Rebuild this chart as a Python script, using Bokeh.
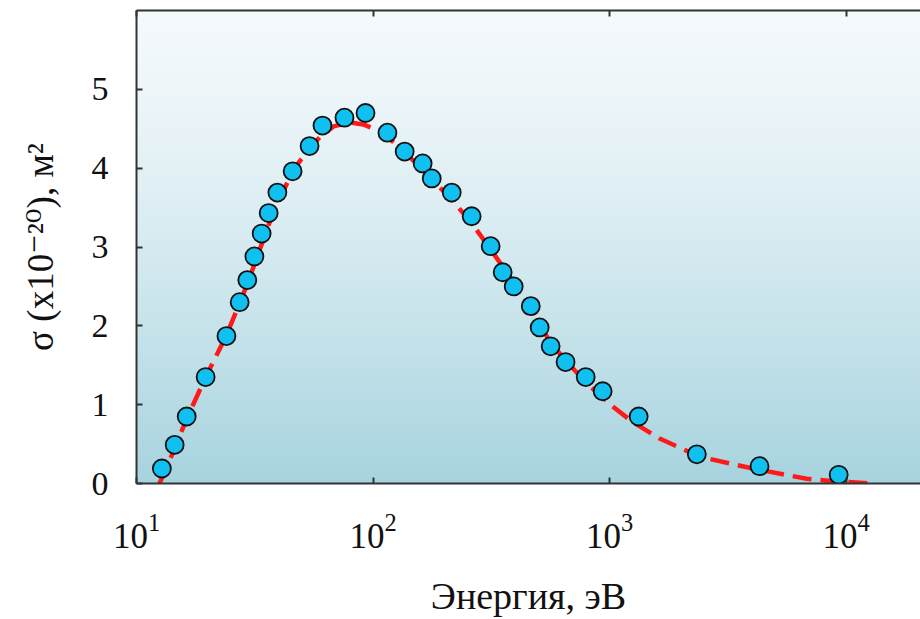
import numpy as np
from bokeh.plotting import figure
from bokeh.models import Range1d, LogAxis, FixedTicker, ColumnDataSource
from bokeh.embed import file_html
from bokeh.resources import INLINE

# ---- data ----
energy_ev = [12.8, 14.5, 16.3, 19.6, 24.0, 27.3, 29.4, 31.5, 33.8, 36.2, 39.4,
             45.7, 53.9, 61.1, 75.7, 92.9, 115, 136, 162, 177, 215, 261, 314,
             353, 393, 464, 506, 563, 651, 792, 934, 1326, 2336, 4300, 9290]
sigma_points = [0.19, 0.49, 0.85, 1.35, 1.87, 2.30, 2.58, 2.88, 3.17, 3.43, 3.69,
                3.96, 4.28, 4.54, 4.64, 4.70, 4.45, 4.21, 4.06, 3.87, 3.69, 3.39, 3.01,
                2.68, 2.50, 2.25, 1.98, 1.74, 1.54, 1.35, 1.17, 0.85, 0.37, 0.22, 0.11]

fit_energy = [12.5, 13.5, 14.5, 16.3, 19.6, 24.0, 29.4, 36.5, 45.7, 53.9, 59.4,
              68.0, 80.0, 92.0, 110, 143, 177, 215, 260, 312, 390, 460, 560,
              680, 800, 1018, 1250, 1626, 2404, 4027, 6808, 8770, 12950]
fit_sigma = [0.0, 0.22, 0.45, 0.82, 1.35, 1.88, 2.53, 3.31, 3.97, 4.25, 4.39,
             4.53, 4.58, 4.55, 4.45, 4.14, 3.86, 3.60, 3.31, 2.98, 2.57, 2.25, 1.79,
             1.50, 1.27, 0.99, 0.78, 0.57, 0.34, 0.19, 0.06, 0.03, 0.0]

y_ticks = [0, 1, 2, 3, 4, 5]
x_ticks = [10, 100, 1000, 10000]

x_title = "Энергия, эВ"
y_title = "σ (x10⁻²⁰), м²"

# ---- figure ----
FONT = "Liberation Serif"
W, H = 920, 619
X0, X1 = 10, 2.06e4
Y0, Y1 = 0, 6
p = figure(width=W, height=H, x_axis_type="log",
           x_range=Range1d(X0, X1), y_range=Range1d(Y0, Y1),
           output_backend="svg", toolbar_location=None,
           min_border_left=136, min_border_right=0,
           min_border_top=10, min_border_bottom=136)
p.outline_line_color = None
p.xgrid.visible = False
p.ygrid.visible = False
p.background_fill_color = "white"

# gradient background (style only)
n = 120
edges = np.linspace(Y0, Y1, n + 1)
top_c = np.array([244, 249, 252])
bot_c = np.array([166, 211, 222])
cols = []
for i in range(n):
    t = 1 - (edges[i] + edges[i + 1]) / 2 / Y1  # 0 at top, 1 at bottom
    t = t ** 1.35
    c = top_c + (bot_c - top_c) * t
    cols.append("#%02x%02x%02x" % tuple(int(round(v)) for v in c))
p.quad(left=[X0] * n, right=[1e6] * n, bottom=list(edges[:-1]),
       top=list(edges[1:] + 0.01), fill_color=cols, line_color=None)

# fit curve
p.line(fit_energy, fit_sigma, line_color="#ff1a1a", line_width=4.5,
       line_dash="19 9")

# data points
src = ColumnDataSource(dict(x=energy_ev, y=sigma_points))
p.scatter("x", "y", source=src, size=18, fill_color="#0fc0f0",
          line_color="#111111", line_width=1.8)

# axes styling
for ax in [p.xaxis[0], p.yaxis[0]]:
    ax.axis_line_color = "#333333"
    ax.axis_line_width = 2
    ax.major_tick_in = 6
    ax.major_tick_out = 0
    ax.minor_tick_in = 0
    ax.minor_tick_out = 0
    ax.major_tick_line_color = "#333333"
    ax.major_tick_line_width = 2
    ax.major_label_text_font = FONT
    ax.major_label_text_color = "#111111"
    ax.axis_label_text_font_style = "normal"
    ax.axis_label_text_color = "#111111"

p.xaxis[0].ticker = FixedTicker(ticks=x_ticks)
p.xaxis[0].major_label_text_font_size = "35px"
p.xaxis[0].major_label_standoff = 30
p.xaxis[0].axis_label = x_title
p.xaxis[0].axis_label_text_font = FONT
p.xaxis[0].axis_label_text_font_size = "38px"
p.xaxis[0].axis_label_standoff = 24

p.yaxis[0].ticker = FixedTicker(ticks=y_ticks)
p.yaxis[0].major_label_text_font_size = "34px"
p.yaxis[0].major_label_standoff = 28
p.yaxis[0].axis_label = y_title
p.yaxis[0].axis_label_text_font = "Liberation Serif, DejaVu Serif"
p.yaxis[0].axis_label_text_font_size = "37px"
p.yaxis[0].axis_label_standoff = 28

top = LogAxis(ticker=FixedTicker(ticks=x_ticks))
top.axis_line_color = "#333333"
top.axis_line_width = 2
top.major_tick_in = 6
top.major_tick_out = 0
top.minor_tick_in = 0
top.minor_tick_out = 0
top.major_tick_line_color = "#333333"
top.major_tick_line_width = 2
top.major_label_text_font_size = "1px"
top.major_label_text_color = None
top.major_label_standoff = 0
p.add_layout(top, "above")

open("out.html", "w").write(file_html(p, INLINE))
